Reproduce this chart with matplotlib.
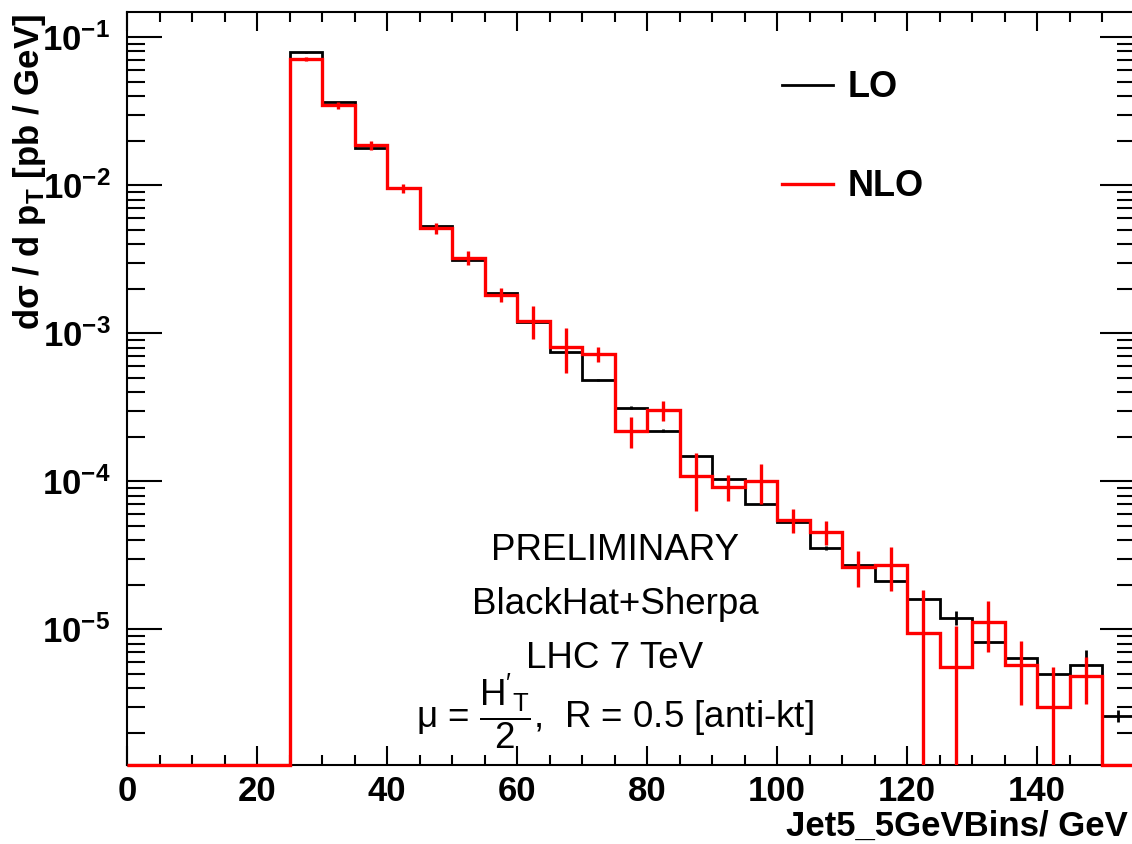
'''
LO vs NLO jet pT spectrum (BlackHat+Sherpa), ROOT style log histogram.
'''
import matplotlib
matplotlib.use("Agg")
import matplotlib.pyplot as plt
from matplotlib.ticker import MultipleLocator, LogLocator, FuncFormatter, NullFormatter
import numpy as np

plt.rcParams["font.family"] = ["Liberation Sans", "DejaVu Sans"]
plt.rcParams["mathtext.fontset"] = "custom"
plt.rcParams["mathtext.rm"] = "Liberation Sans"
plt.rcParams["mathtext.bf"] = "Liberation Sans:bold"
plt.rcParams["mathtext.it"] = "Liberation Sans:italic"

# bin edges in GeV (5 GeV bins)
edges = np.arange(0, 160, 5)

# first five bins (0-25 GeV) are empty
lo = [0, 0, 0, 0, 0,
      0.0791, 0.0363, 0.0177, 0.0095, 0.00526, 0.00313, 0.00186, 0.00119,
      0.000746, 0.000482, 0.000314, 0.000220, 0.000149, 0.000103, 7.06e-5,
      5.28e-5, 3.54e-5, 2.73e-5, 2.13e-5, 1.60e-5, 1.19e-5, 8.15e-6,
      6.38e-6, 4.97e-6, 5.75e-6, 2.61e-6]
lo_err = [0, 0, 0, 0, 0,
          0.0008, 0.0004, 0.0002, 0.0001, 6e-5, 4e-5, 2.5e-5, 1.8e-5,
          1.2e-5, 8e-6, 6e-6, 5e-6, 3.5e-6, 2.5e-6, 1.8e-6,
          1.2e-6, 1e-6, 8e-7, 7e-7, 6e-7, 1.3e-6, 5e-7,
          4e-7, 3e-7, 1.5e-6, 2.4e-7]

nlo = [0, 0, 0, 0, 0,
       0.071, 0.0348, 0.0187, 0.00956, 0.0051, 0.00323, 0.00182, 0.001216,
       0.000807, 0.000719, 0.000220, 0.000301, 0.000109, 9.16e-5, 0.0001007,
       5.44e-5, 4.52e-5, 2.64e-5, 2.70e-5, 9.5e-6, 5.55e-6, 1.12e-5,
       5.69e-6, 2.96e-6, 4.84e-6, 0]
nlo_err = [0, 0, 0, 0, 0,
           0.0022, 0.0019, 0.0013, 0.0007, 0.00044, 0.00034, 0.00019, 0.0003,
           0.00027, 8.4e-5, 5.3e-5, 4.7e-5, 4.6e-5, 1.8e-5, 3.1e-5,
           1.0e-5, 8.4e-6, 7.2e-6, 9e-6, 9.0e-6, 4.9e-6, 4.2e-6,
           2.6e-6, 2.6e-6, 1.7e-6, 0]

ymin, ymax = 1.21e-6, 0.149

fig = plt.figure(figsize=(11.32, 8.44), dpi=100)
ax = fig.add_axes([127 / 1132, 79 / 844, 1007.5 / 1132, 753.5 / 844])
ax.set_yscale("log")
ax.set_xlim(0, 155)
ax.set_ylim(ymin, ymax)

centers = 0.5 * (edges[:-1] + edges[1:])


def draw(vals, errs, color, lw, elw, z):
    vals = np.array(vals, dtype=float)
    errs = np.array(errs, dtype=float)
    shown = np.where(vals > 0, vals, ymin)
    line = ax.stairs(shown, edges, baseline=None, color=color, linewidth=lw,
                     zorder=z, clip_on=False)
    m = vals > 0
    low = np.clip(vals[m] - errs[m], ymin * 0.5, None)
    ax.vlines(centers[m], low, vals[m] + errs[m], color=color, linewidth=elw, zorder=z)
    return line


h_lo = draw(lo, lo_err, "black", 2.0, 2.0, 3)
h_nlo = draw(nlo, nlo_err, "#ff0000", 2.4, 2.4, 4)

# ROOT-like ticks: inside, on all sides
ax.xaxis.set_major_locator(MultipleLocator(20))
ax.xaxis.set_minor_locator(MultipleLocator(5))
ax.yaxis.set_major_locator(LogLocator(base=10, numticks=20))
ax.yaxis.set_minor_locator(LogLocator(base=10, subs=np.arange(2, 10), numticks=20))
ax.yaxis.set_minor_formatter(NullFormatter())
ax.yaxis.set_major_formatter(FuncFormatter(
    lambda v, p: r"$\mathbf{10^{-%d}}$" % int(round(-np.log10(v)))))
ax.tick_params(axis="x", which="major", direction="in", length=14, width=1.5,
               top=True, labelsize=25, pad=7)
ax.tick_params(axis="x", which="minor", direction="in", length=7, width=1.5, top=True)
ax.tick_params(axis="y", which="major", direction="in", length=25, width=1.5,
               right=True, labelsize=25, pad=12)
ax.tick_params(axis="y", which="minor", direction="in", length=13, width=1.5, right=True)
for lab in ax.get_xticklabels():
    lab.set_fontweight("bold")
for sp in ax.spines.values():
    sp.set_linewidth(1.5)

ax.set_ylabel("dσ / d p$_{\\mathbf{T}}$ [pb / GeV]", fontsize=25, fontweight="bold")
ax.yaxis.set_label_coords(-0.078, 0.787)
fig.text(1128 / 1132, 1 - 826 / 844, "Jet5_5GeVBins/ GeV", fontsize=25,
         fontweight="bold", ha="right", va="center")

ax.legend([h_lo, h_nlo], ["LO", "NLO"], loc="upper left",
          bbox_to_anchor=(0.618, 0.965), frameon=False,
          prop={"size": 26, "weight": "bold"}, handlelength=1.4,
          handletextpad=0.4, labelspacing=1.77)

# annotations
tx = 615 / 1132
fig.text(tx, 1 - 550 / 844, "PRELIMINARY", fontsize=26.5, ha="center", va="center")
fig.text(tx, 1 - 604 / 844, "BlackHat+Sherpa", fontsize=26.5, ha="center", va="center")
fig.text(tx, 1 - 658 / 844, "LHC 7 TeV", fontsize=26.5, ha="center", va="center")
fig.text(tx, 1 - 711 / 844, r"μ = $\dfrac{\mathrm{H'_{T}}}{\mathrm{2}}$,  R = 0.5 [anti-kt]",
         fontsize=26.5, ha="center", va="center")

fig.savefig("out.png", dpi=100)
